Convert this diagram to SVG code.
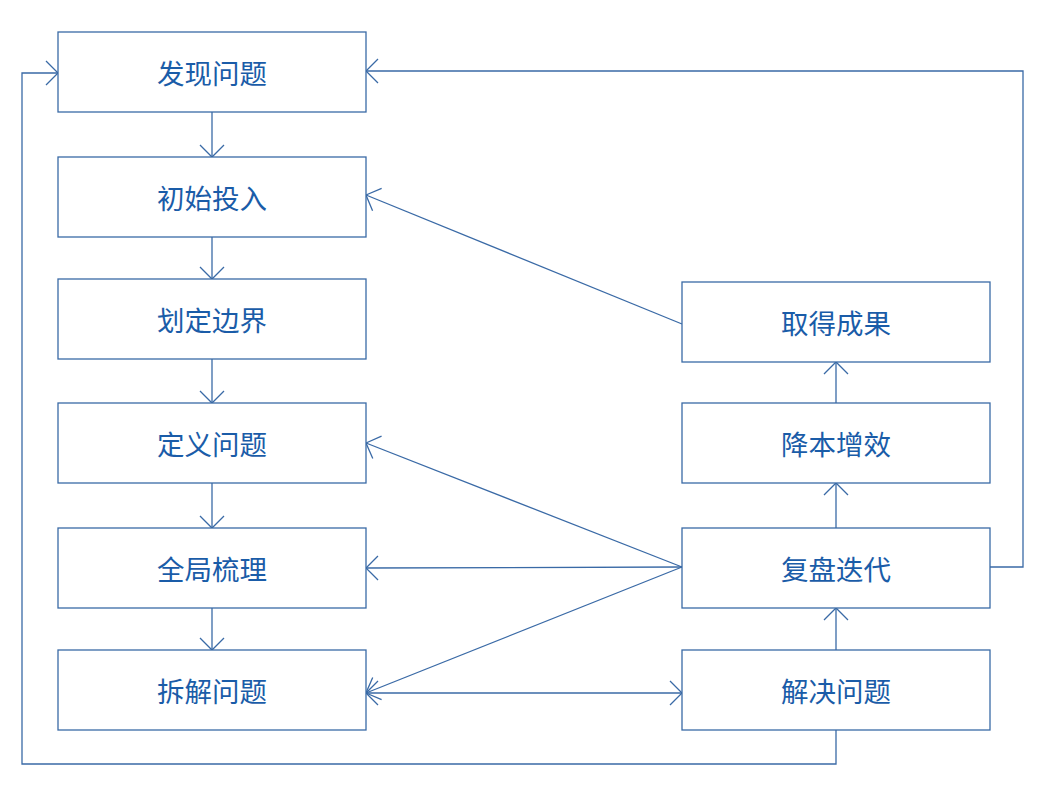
<svg xmlns="http://www.w3.org/2000/svg" width="1055" height="794" viewBox="0 0 1055 794">
<style>
.box{fill:#fff;stroke:#3a6aa6;stroke-width:1.3}
.lbl{font-family:"Noto Sans CJK SC","Noto Sans",sans-serif;font-size:27.5px;fill:#1a5ca8;text-anchor:middle;dominant-baseline:central}
.c{fill:none;stroke:#3a6aa6;stroke-width:1.3}
</style>
<defs>
<marker id="a" viewBox="0 0 14 26" refX="13" refY="13" markerWidth="14" markerHeight="26" markerUnits="userSpaceOnUse" orient="auto-start-reverse">
<path d="M1,1 L13,13 L1,25" fill="none" stroke="#3a6aa6" stroke-width="1.3"/>
</marker>
</defs>
<rect width="1055" height="794" fill="#fff"/>
<g id="connectors">
<path class="c" d="M212,112 V157" marker-end="url(#a)"/>
<path class="c" d="M212,237 V279" marker-end="url(#a)"/>
<path class="c" d="M212,359 V403" marker-end="url(#a)"/>
<path class="c" d="M212,483 V528" marker-end="url(#a)"/>
<path class="c" d="M212,608 V650" marker-end="url(#a)"/>
<path class="c" d="M836,650 V608" marker-end="url(#a)"/>
<path class="c" d="M836,528 V483" marker-end="url(#a)"/>
<path class="c" d="M836,403 V362" marker-end="url(#a)"/>
<path class="c" d="M682,324 L366,195" marker-end="url(#a)"/>
<path class="c" d="M682,567 L366,443" marker-end="url(#a)"/>
<path class="c" d="M682,567 L366,568" marker-end="url(#a)"/>
<path class="c" d="M682,567 L366,693" marker-end="url(#a)"/>
<path class="c" d="M366,693 L682,693" marker-start="url(#a)" marker-end="url(#a)"/>
<path class="c" d="M990,567 H1023 V71 H366" marker-end="url(#a)"/>
<path class="c" d="M836,730 V764 H22 V73 H58" marker-end="url(#a)"/>
</g>
<g id="n1"><rect class="box" x="58" y="32" width="308" height="80"/><text class="lbl" x="212" y="72">发现问题</text></g>
<g id="n2"><rect class="box" x="58" y="157" width="308" height="80"/><text class="lbl" x="212" y="197">初始投入</text></g>
<g id="n3"><rect class="box" x="58" y="279" width="308" height="80"/><text class="lbl" x="212" y="319">划定边界</text></g>
<g id="n4"><rect class="box" x="58" y="403" width="308" height="80"/><text class="lbl" x="212" y="443">定义问题</text></g>
<g id="n5"><rect class="box" x="58" y="528" width="308" height="80"/><text class="lbl" x="212" y="568">全局梳理</text></g>
<g id="n6"><rect class="box" x="58" y="650" width="308" height="80"/><text class="lbl" x="212" y="690">拆解问题</text></g>
<g id="n7"><rect class="box" x="682" y="282" width="308" height="80"/><text class="lbl" x="836" y="322">取得成果</text></g>
<g id="n8"><rect class="box" x="682" y="403" width="308" height="80"/><text class="lbl" x="836" y="443">降本增效</text></g>
<g id="n9"><rect class="box" x="682" y="528" width="308" height="80"/><text class="lbl" x="836" y="568">复盘迭代</text></g>
<g id="n10"><rect class="box" x="682" y="650" width="308" height="80"/><text class="lbl" x="836" y="690">解决问题</text></g>
</svg>
